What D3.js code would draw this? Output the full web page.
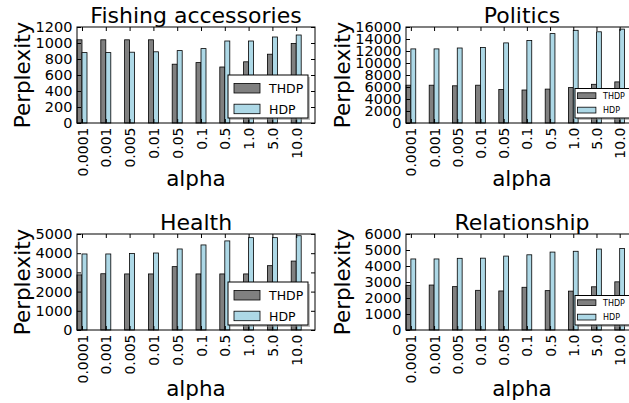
<!DOCTYPE html>
<html>
<head>
<meta charset="utf-8">
<script src="https://cdn.jsdelivr.net/npm/d3@7"></script>
<style>
  html, body { margin: 0; padding: 0; background: #fff; }
  svg { display: block; font-family: "DejaVu Sans", sans-serif; }
</style>
</head>
<body>
<svg id="chart" width="629" height="403"></svg>
<script>
// ---------- data ----------
const alphaLabels = ["0.0001", "0.001", "0.005", "0.01", "0.05", "0.1", "0.5", "1.0", "5.0", "10.0"];
const seriesNames = ["THDP", "HDP"];

const fishingTHDP = [1040, 1040, 1040, 1040, 735, 755, 700, 765, 860, 995];
const fishingHDP  = [880, 880, 885, 890, 905, 930, 1025, 1025, 1075, 1100];
const fishingTicks = [0, 200, 400, 600, 800, 1000, 1200];

const politicsTHDP = [6300, 6300, 6200, 6300, 5600, 5500, 5650, 5900, 6450, 6850];
const politicsHDP  = [12350, 12350, 12500, 12600, 13350, 13750, 14900, 15450, 15200, 15650];
const politicsTicks = [0, 2000, 4000, 6000, 8000, 10000, 12000, 14000, 16000];

const healthTHDP = [2870, 2930, 2920, 2920, 3300, 2920, 2920, 2920, 3350, 3590];
const healthHDP  = [3960, 3960, 3980, 4010, 4220, 4430, 4640, 4810, 4810, 4910];
const healthTicks = [0, 1000, 2000, 3000, 4000, 5000];

const relationTHDP = [2790, 2810, 2710, 2480, 2440, 2670, 2460, 2430, 2700, 3010];
const relationHDP  = [4440, 4440, 4480, 4490, 4620, 4700, 4870, 4920, 5060, 5100];
const relationTicks = [0, 1000, 2000, 3000, 4000, 5000, 6000];

// ---------- layout ----------
const colors = { THDP: "#808080", HDP: "#add8e6" };
const barW = 0.21;

const panels = [
  { title: "Fishing accessories", thdp: fishingTHDP, hdp: fishingHDP, ticks: fishingTicks,
    x0: 77, x1: 315, y0: 27, y1: 123, legend: "large", xlabOff: 62.5, ylabOff: 47.5 },
  { title: "Politics", thdp: politicsTHDP, hdp: politicsHDP, ticks: politicsTicks,
    x0: 406, x1: 638, y0: 27, y1: 123, legend: "small", xlabOff: 62.5, ylabOff: 56.5 },
  { title: "Health", thdp: healthTHDP, hdp: healthHDP, ticks: healthTicks,
    x0: 77, x1: 315, y0: 234, y1: 330, legend: "large", xlabOff: 65.5, ylabOff: 47.5 },
  { title: "Relationship", thdp: relationTHDP, hdp: relationHDP, ticks: relationTicks,
    x0: 406, x1: 638, y0: 234, y1: 330, legend: "small", xlabOff: 65.5, ylabOff: 56.5 }
];

const svg = d3.select("#chart");
svg.append("rect").attr("width", 629).attr("height", 403).attr("fill", "#fff");

panels.forEach(p => {
  const g = svg.append("g");
  const x = d3.scaleLinear().domain([0, 10]).range([p.x0, p.x1]);
  const y = d3.scaleLinear().domain([0, p.ticks[p.ticks.length - 1]]).range([p.y1, p.y0]);
  const idx = d3.range(alphaLabels.length);

  // bars
  g.selectAll("rect.thdp").data(idx).join("rect")
    .attr("class", "thdp")
    .attr("x", i => x(i)).attr("width", i => x(i + barW) - x(i))
    .attr("y", i => y(p.thdp[i])).attr("height", i => y(0) - y(p.thdp[i]))
    .attr("fill", colors.THDP).attr("stroke", "#000").attr("stroke-width", 0.8);
  g.selectAll("rect.hdp").data(idx).join("rect")
    .attr("class", "hdp")
    .attr("x", i => x(i + barW)).attr("width", i => x(i + 2 * barW) - x(i + barW))
    .attr("y", i => y(p.hdp[i])).attr("height", i => y(0) - y(p.hdp[i]))
    .attr("fill", colors.HDP).attr("stroke", "#000").attr("stroke-width", 0.8);

  // frame
  g.append("rect").attr("x", p.x0).attr("y", p.y0)
    .attr("width", p.x1 - p.x0).attr("height", p.y1 - p.y0)
    .attr("fill", "none").attr("stroke", "#000").attr("stroke-width", 1);

  const tickPos = idx.map(i => i + barW);

  // axes
  const yl = g.append("g").attr("transform", `translate(${p.x0},0)`)
    .call(d3.axisLeft(y).tickValues(p.ticks).tickFormat(d3.format("d"))
      .tickSizeInner(-4).tickSizeOuter(0).tickPadding(4.5));
  yl.select(".domain").remove();
  yl.selectAll("text").attr("font-size", "14.5px").attr("font-family", "DejaVu Sans").attr("fill", "#000");

  const yr = g.append("g").attr("transform", `translate(${p.x1},0)`)
    .call(d3.axisRight(y).tickValues(p.ticks).tickSizeInner(-4).tickSizeOuter(0).tickFormat(""));
  yr.select(".domain").remove();

  const xb = g.append("g").attr("transform", `translate(0,${p.y1})`)
    .call(d3.axisBottom(x).tickValues(tickPos).tickSizeInner(-4).tickSizeOuter(0)
      .tickFormat((d, i) => alphaLabels[i]));
  xb.select(".domain").remove();
  xb.selectAll("text")
    .attr("transform", "rotate(-90)")
    .attr("x", -4.5).attr("y", 0).attr("dy", "0.36em")
    .attr("text-anchor", "end")
    .attr("font-size", "14px").attr("font-family", "DejaVu Sans").attr("fill", "#000");

  const xt = g.append("g").attr("transform", `translate(0,${p.y0})`)
    .call(d3.axisTop(x).tickValues(tickPos).tickSizeInner(-4).tickSizeOuter(0).tickFormat(""));
  xt.select(".domain").remove();

  // title and labels
  g.append("text").attr("x", (p.x0 + p.x1) / 2).attr("y", p.y0 - 4.5)
    .attr("text-anchor", "middle").attr("font-size", "22px").text(p.title);
  g.append("text").attr("x", (p.x0 + p.x1) / 2).attr("y", p.y1 + p.xlabOff)
    .attr("text-anchor", "middle").attr("font-size", "21.5px").text("alpha");
  g.append("text")
    .attr("transform", `translate(${p.x0 - p.ylabOff},${(p.y0 + p.y1) / 2}) rotate(-90)`)
    .attr("text-anchor", "middle").attr("font-size", "21.5px").text("Perplexity");

  // legend
  const L = p.legend === "large"
    ? { w: 80, h: 43, dx: 87, dy: 48, px: 6, pw: 26, ph: 9.5, py: [8.5, 29.2], tx: 41, ty: [17.8, 38.7], fs: 12.5 }
    : { w: 56, h: 29.5, dx: 63, dy: 34.5, px: 2.5, pw: 18.4, ph: 5.8, py: [4.3, 18.7], tx: 28, ty: [10.2, 24.5], fs: 8 };
  const lx = p.x1 - L.dx, ly = p.y1 - L.dy;
  const lg = g.append("g");
  lg.append("rect").attr("x", lx + 2).attr("y", ly + 2).attr("width", L.w).attr("height", L.h)
    .attr("fill", "#808080").attr("opacity", 0.5);
  lg.append("rect").attr("x", lx).attr("y", ly).attr("width", L.w).attr("height", L.h)
    .attr("fill", "#fff").attr("stroke", "#000").attr("stroke-width", 1);
  seriesNames.forEach((s, k) => {
    lg.append("rect").attr("x", lx + L.px).attr("y", ly + L.py[k]).attr("width", L.pw).attr("height", L.ph)
      .attr("fill", colors[s]).attr("stroke", "#000").attr("stroke-width", 0.8);
    lg.append("text").attr("x", lx + L.tx).attr("y", ly + L.ty[k])
      .attr("font-size", L.fs + "px").text(s);
  });
});
</script>
</body>
</html>
